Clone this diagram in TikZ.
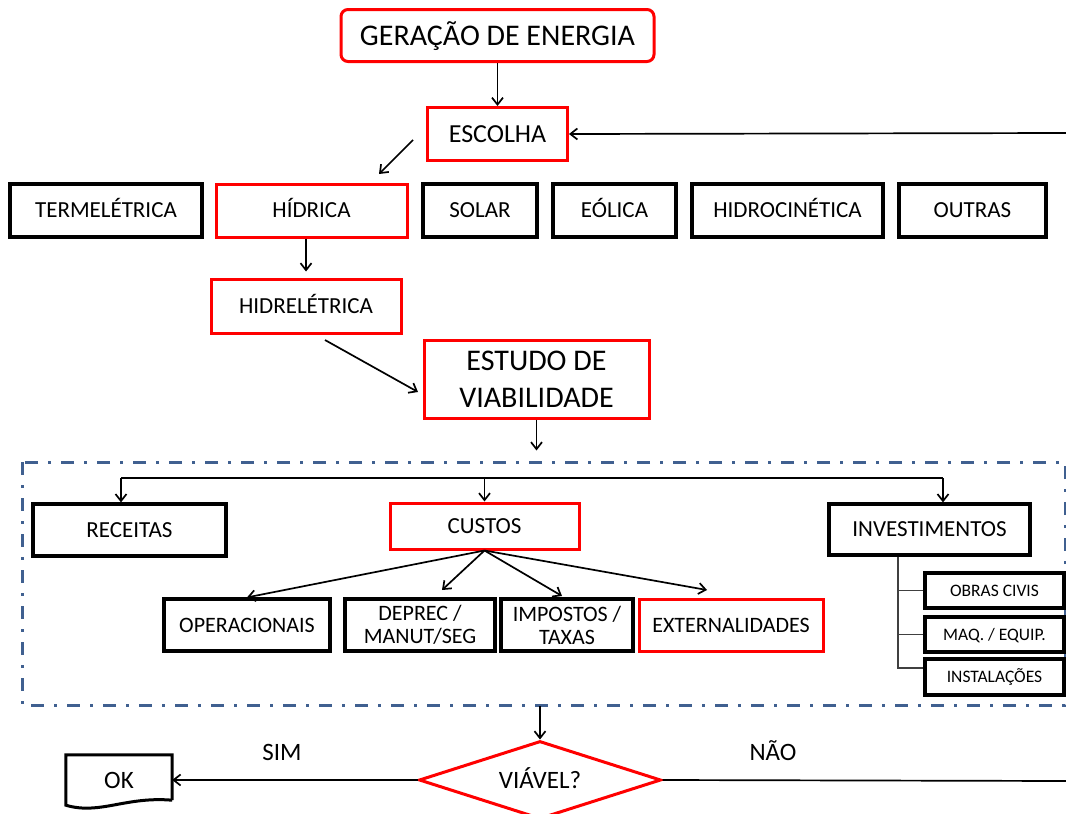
\documentclass[tikz,border=0pt]{standalone}
\usepackage{fontspec}
\setmainfont{Carlito}
\usetikzlibrary{arrows.meta,shapes.geometric}
\definecolor{boxred}{RGB}{255,0,0}
\definecolor{frameblue}{RGB}{64,96,144}
\begin{document}
\begin{tikzpicture}[x=1pt,y=-1pt,
  bx/.style={draw=black,line width=3.2pt,rectangle,inner sep=0pt,align=center},
  rbx/.style={draw=boxred,line width=3pt,rectangle,inner sep=0pt,align=center},
  arr/.style={draw=black,line width=1.7pt,-{Straight Barb[length=7pt,width=11pt]}},
  ln/.style={draw=black,line width=1.7pt},
  brln/.style={draw=black!75,line width=1.5pt},
  fA/.style={font=\fontsize{30}{37}\selectfont},
  fB/.style={font=\fontsize{26}{31}\selectfont,text height=16.7pt,text depth=0pt},
  fC/.style={font=\fontsize{23}{27}\selectfont,text height=14.8pt,text depth=0pt},
  fD/.style={font=\fontsize{22}{23}\selectfont},
  fDs/.style={font=\fontsize{22}{23}\selectfont,text height=14.2pt,text depth=0pt},
  fE/.style={font=\fontsize{17.5}{21}\selectfont,text height=11.3pt,text depth=0pt},
  fL/.style={font=\fontsize{25}{30}\selectfont,text height=16.1pt,text depth=0pt},
  fAs/.style={font=\fontsize{30}{37}\selectfont,text height=19.3pt,text depth=0pt}
]
\useasboundingbox (0,0) rectangle (1066,814);

% top
\node[rbx,rounded corners=7pt,minimum width=313pt,minimum height=52pt,fAs] (gen) at (497.5,35.5) {GERAÇÃO DE ENERGIA};
\node[rbx,minimum width=140pt,minimum height=53pt,fB] (esc) at (497.5,134) {ESCOLHA};

% row
\node[bx,minimum width=192pt,minimum height=53pt,fC] (term) at (106,210.5) {TERMELÉTRICA};
\node[rbx,minimum width=191pt,minimum height=53pt,fC] (hid) at (311.5,210.5) {HÍDRICA};
\node[bx,minimum width=114pt,minimum height=53pt,fC] (solar) at (480,210.5) {SOLAR};
\node[bx,minimum width=123pt,minimum height=53pt,fC] (eol) at (614.5,210.5) {EÓLICA};
\node[bx,minimum width=191pt,minimum height=53pt,fC] (hidroc) at (787.5,210.5) {HIDROCINÉTICA};
\node[bx,minimum width=147pt,minimum height=53pt,fC] (outras) at (972.5,210.5) {OUTRAS};

\node[rbx,minimum width=190pt,minimum height=54pt,fC] (hidrel) at (306,306) {HIDRELÉTRICA};
\node[rbx,minimum width=225pt,minimum height=78pt,fA] (estudo) at (536.5,379) {ESTUDO DE\\VIABILIDADE};

\draw[arr] (gen) -- (esc);
\coordinate (rin) at (1066,133);
\draw[arr] (rin) -- (esc.east);
\coordinate (e1) at (413,140);
\coordinate (e2) at (379,174);
\draw[arr] (e1) -- (e2);
\draw[arr] (hidrel.north |- hid.south) -- ++(0,33);
\coordinate (h1) at (325,340);
\coordinate (h2) at (418,392);
\draw[arr] (h1) -- (h2);
\draw[arr] (estudo.south) -- ++(0,31);

% frame
\draw[frameblue,line width=3pt,dash pattern=on 13pt off 10pt on 3pt off 10pt] (22,462) rectangle (1065,705);

\node[bx,minimum width=193pt,minimum height=52pt,fC] (rec) at (129.5,530) {RECEITAS};
\node[rbx,minimum width=189pt,minimum height=46pt,fC] (cus) at (484.5,526) {CUSTOS};
\node[bx,minimum width=201pt,minimum height=51pt,fC] (inv) at (929.5,529.5) {INVESTIMENTOS};

\coordinate (tl) at (121,478);
\coordinate (tr) at (943,478);
\draw[ln] (tl) -- (tr);
\draw[arr] (tl) -- (tl |- rec.north);
\draw[arr] (tr) -- (tr |- inv.north);
\draw[arr] (cus.north |- tl) -- (cus.north);

\node[bx,minimum width=166pt,minimum height=52pt,fDs] (oper) at (247,625) {OPERACIONAIS};
\node[bx,minimum width=150pt,minimum height=52pt,fD] (dep) at (420,625) {DEPREC /\\MANUT/SEG};
\node[bx,minimum width=132pt,minimum height=52pt,fD] (imp) at (567,625) {IMPOSTOS /\\TAXAS};
\node[rbx,minimum width=184pt,minimum height=52pt,fDs] (ext) at (731,625) {EXTERNALIDADES};

\coordinate (t2) at (442,590);
\coordinate (t3) at (562,596);
\coordinate (t4) at (707,590);
\draw[arr] (cus.south) -- (oper.north);
\draw[arr] (cus.south) -- (t2);
\draw[arr] (cus.south) -- (t3);
\draw[arr] (cus.south) -- (t4);

\node[bx,minimum width=139pt,minimum height=35pt,fE] (obras) at (994.5,590.5) {OBRAS CIVIS};
\node[bx,minimum width=139pt,minimum height=35pt,fE] (maq) at (994.5,634.5) {MAQ. / EQUIP.};
\node[bx,minimum width=139pt,minimum height=36pt,fE] (inst) at (994.5,677) {INSTALAÇÕES};

\path (inv.south) ++(-31.5,0) coordinate (vtop);
\draw[brln] (vtop) |- ([yshift=9pt]inst.west);
\draw[brln] (vtop |- obras.west) -- (obras.west);
\draw[brln] (vtop |- maq.west) -- (maq.west);

% bottom
\node[draw=boxred,line width=3pt,diamond,shape aspect=3,minimum width=242pt,minimum height=78pt,inner sep=0pt,fL] (viav) at (540,780) {VIÁVEL?};
\coordinate (fb) at (540,706);
\draw[arr] (fb) -- (viav.north);

\node[minimum width=106pt,minimum height=50pt,inner sep=0pt,fL] (ok) at (119,780) {OK};
\draw[line width=3pt,line join=miter] ([yshift=5pt]ok.south east) -- (ok.north east) -- (ok.north west) -- (ok.south west)
  .. controls ([xshift=34pt,yshift=-10pt]ok.south west) and ([xshift=-47pt,yshift=9pt]ok.south east) .. ([yshift=5pt]ok.south east);
\draw[arr] (viav.west) -- (ok.east);
\coordinate (nout) at (1066,781);
\draw[ln] (viav.east) -- (nout);

\node[fL] (sim) at (282,752) {SIM};
\node[fL] (nao) at (773,752) {NÃO};
\end{tikzpicture}
\end{document}
